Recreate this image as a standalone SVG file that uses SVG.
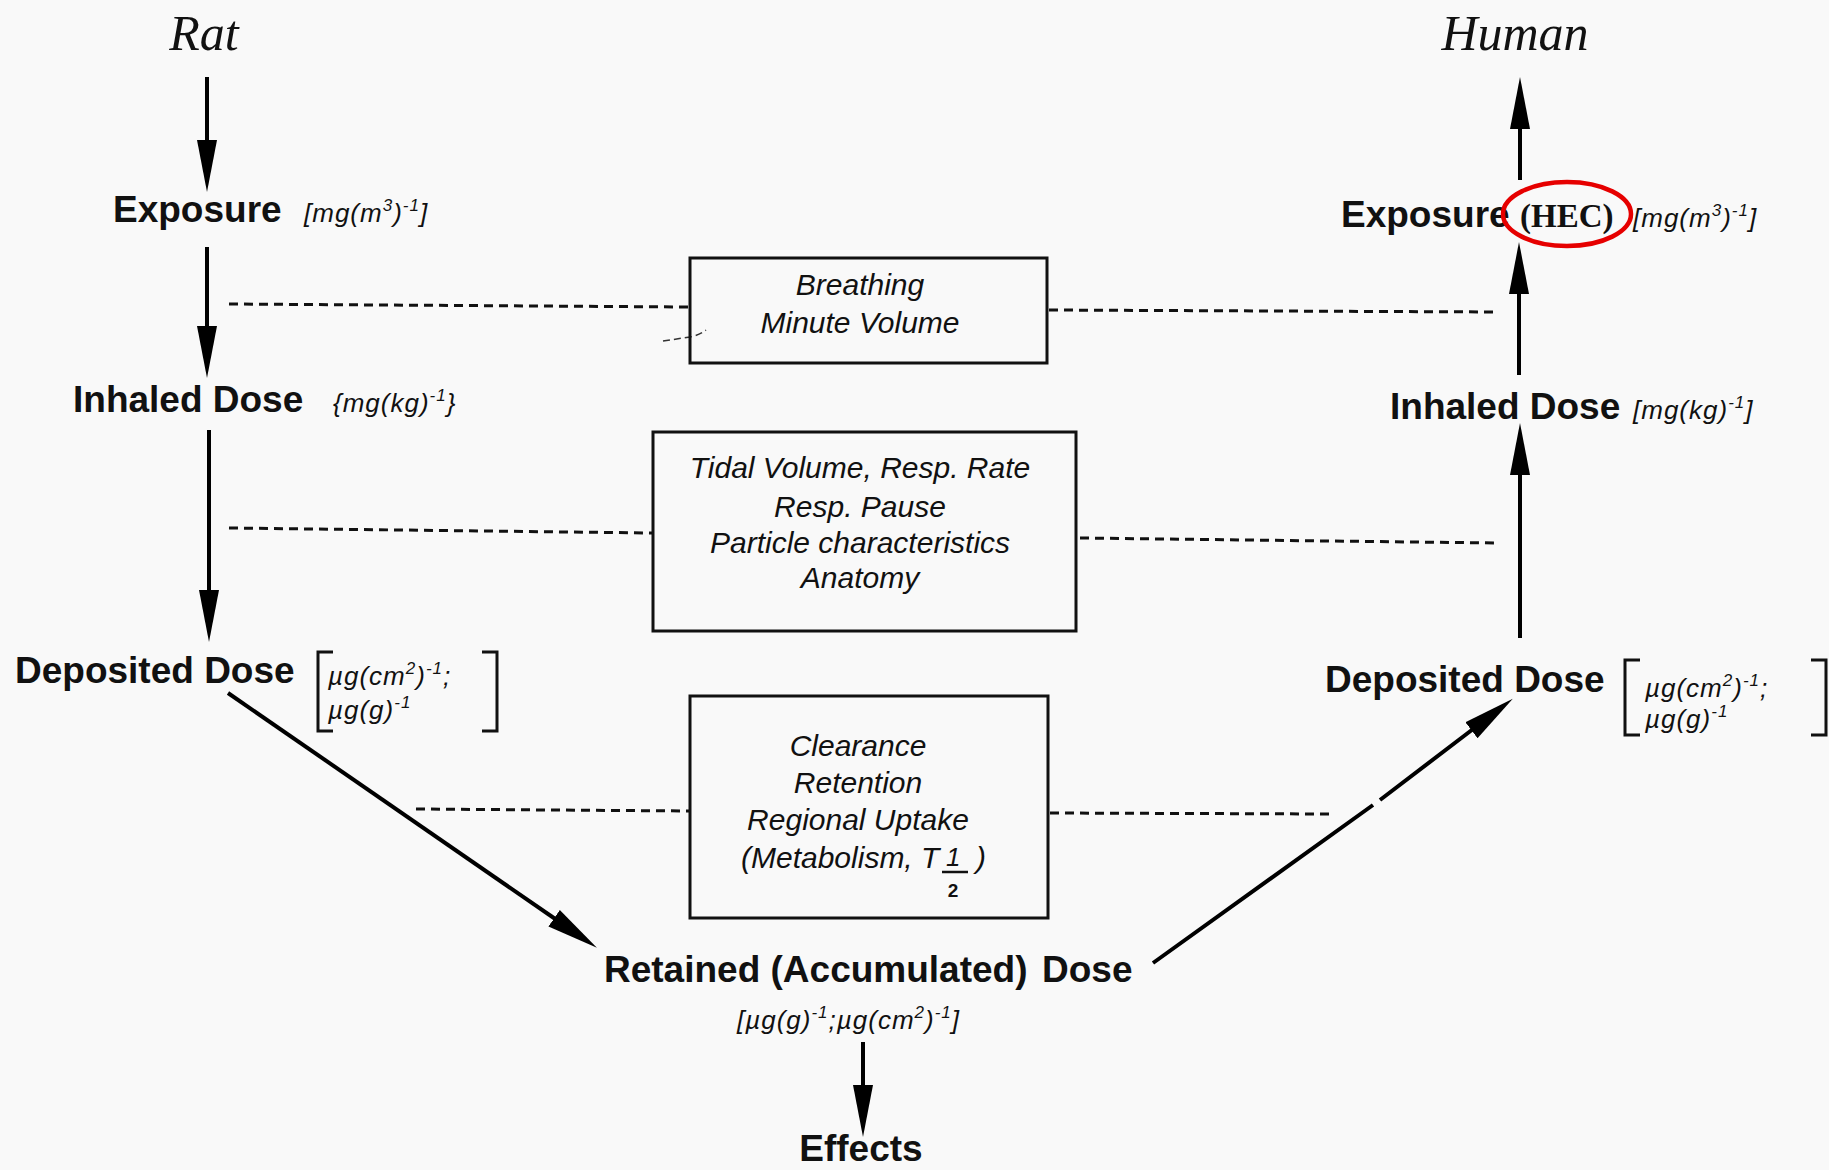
<svg xmlns="http://www.w3.org/2000/svg" width="1829" height="1170" viewBox="0 0 1829 1170">
<style>
.bg{fill:#f9f9f9}
.lbl{font-family:"Liberation Sans",Arial,sans-serif;font-weight:bold;font-size:37px;fill:#111}
.u{font-family:"Liberation Sans",Arial,sans-serif;font-style:italic;font-size:26px;fill:#111;letter-spacing:1px}
.s{font-size:17px}
.bx{font-family:"Liberation Sans",Arial,sans-serif;font-style:italic;font-size:30px;fill:#111;text-anchor:middle}
.ttl{font-family:"Liberation Serif","Times New Roman",serif;font-style:italic;font-size:50px;fill:#111;text-anchor:middle}
.box{fill:none;stroke:#111;stroke-width:3}
.arr{fill:none;stroke:#000;stroke-width:4;marker-end:url(#ah)}
.dash{fill:none;stroke:#111;stroke-width:3;stroke-dasharray:9 6}
.brk{fill:none;stroke:#111;stroke-width:3}
</style>
<defs>
<marker id="ah" markerUnits="userSpaceOnUse" markerWidth="54" markerHeight="22" refX="12" refY="10" orient="auto" viewBox="0 0 54 20">
<path d="M0,0 L52,10 L0,20 Z" fill="#000"/>
</marker>
</defs>
<rect class="bg" x="0" y="0" width="1829" height="1170"/>

<g id="connectors">
<path class="arr" d="M207,77 L207,152"/>
<path class="arr" d="M207,247 L207,338"/>
<path class="arr" d="M209,430 L209,602"/>
<path class="arr" d="M228,693 L564,925"/>
<path class="arr" d="M863,1042 L863,1097"/>
<path class="arr" d="M1153,963 L1373,805 M1380,800 L1481,723"/>
<path class="arr" d="M1520,638 L1520,463"/>
<path class="arr" d="M1519,375 L1519,282"/>
<path class="arr" d="M1520,180 L1520,117"/>
<path class="dash" d="M229,304 L690,307"/>
<path class="dash" d="M1049,310 L1497,312"/>
<path class="dash" d="M229,528 L653,533"/>
<path class="dash" d="M1080,538 L1497,543"/>
<path class="dash" d="M416,809 L690,811"/>
<path class="dash" d="M1050,813 L1330,814"/>
<path d="M663,341 L690,337 Q700,335 706,330" fill="none" stroke="#333" stroke-width="1.5" stroke-dasharray="7 4"/>
</g>

<g id="rat-title"><text class="ttl" x="204" y="50">Rat</text></g>
<g id="human-title"><text class="ttl" x="1515" y="50">Human</text></g>

<g id="rat-exposure">
<text class="lbl" x="113" y="222">Exposure</text>
<text class="u" x="304" y="222">[mg(m<tspan class="s" dy="-11">3</tspan><tspan dy="11">)</tspan><tspan class="s" dy="-11">-1</tspan><tspan dy="11">]</tspan></text>
</g>
<g id="rat-inhaled">
<text class="lbl" x="73" y="412">Inhaled Dose</text>
<text class="u" x="333" y="412">{mg(kg)<tspan class="s" dy="-11">-1</tspan><tspan dy="11">}</tspan></text>
</g>
<g id="rat-deposited">
<text class="lbl" x="15" y="683">Deposited Dose</text>
<path class="brk" d="M333,652 L318,652 L318,731 L333,731 M482,652 L497,652 L497,731 L482,731"/>
<text class="u" x="328" y="685">µg(cm<tspan class="s" dy="-11">2</tspan><tspan dy="11">)</tspan><tspan class="s" dy="-11">-1</tspan><tspan dy="11">;</tspan></text>
<text class="u" x="328" y="719">µg(g)<tspan class="s" dy="-11">-1</tspan></text>
</g>

<g id="box-breathing">
<rect class="box" x="690" y="258" width="357" height="105"/>
<text class="bx" x="860" y="295">Breathing</text>
<text class="bx" x="860" y="333">Minute Volume</text>
</g>
<g id="box-tidal">
<rect class="box" x="653" y="432" width="423" height="199"/>
<text class="bx" x="860" y="478">Tidal Volume, Resp. Rate</text>
<text class="bx" x="860" y="517">Resp. Pause</text>
<text class="bx" x="860" y="553">Particle characteristics</text>
<text class="bx" x="860" y="588">Anatomy</text>
</g>
<g id="box-clearance">
<rect class="box" x="690" y="696" width="358" height="222"/>
<text class="bx" x="858" y="756">Clearance</text>
<text class="bx" x="858" y="793">Retention</text>
<text class="bx" x="858" y="830">Regional Uptake</text>
<text class="u" x="741" y="868" style="font-size:30px;letter-spacing:0">(Metabolism, T</text>
<text class="u" x="946" y="866" style="font-size:26px;letter-spacing:0">1</text>
<text class="u" x="976" y="868" style="font-size:30px;letter-spacing:0">)</text>
<path d="M942,872 L968,872" stroke="#111" stroke-width="2.5"/>
<text x="953" y="897" style="font-family:'Liberation Sans',Arial,sans-serif;font-weight:bold;font-size:19px;fill:#111;text-anchor:middle">2</text>
</g>

<g id="retained">
<text class="lbl" x="604" y="982">Retained (Accumulated)</text>
<text class="lbl" x="1042" y="982">Dose</text>
<text class="u" x="737" y="1029">[µg(g)<tspan class="s" dy="-11">-1</tspan><tspan dy="11">;µg(cm</tspan><tspan class="s" dy="-11">2</tspan><tspan dy="11">)</tspan><tspan class="s" dy="-11">-1</tspan><tspan dy="11">]</tspan></text>
</g>
<g id="effects"><text class="lbl" x="861" y="1161" text-anchor="middle">Effects</text></g>

<g id="human-exposure">
<text class="lbl" x="1341" y="227">Exposure</text>
<text x="1520" y="227" style="font-family:'Liberation Serif','Times New Roman',serif;font-weight:bold;font-size:33px;fill:#111">(HEC)</text>
<ellipse cx="1567" cy="214" rx="64" ry="32" fill="none" stroke="#e60000" stroke-width="4.5"/>
<text class="u" x="1633" y="227">[mg(m<tspan class="s" dy="-11">3</tspan><tspan dy="11">)</tspan><tspan class="s" dy="-11">-1</tspan><tspan dy="11">]</tspan></text>
</g>
<g id="human-inhaled">
<text class="lbl" x="1390" y="419">Inhaled Dose</text>
<text class="u" x="1633" y="419">[mg(kg)<tspan class="s" dy="-11">-1</tspan><tspan dy="11">]</tspan></text>
</g>
<g id="human-deposited">
<text class="lbl" x="1325" y="692">Deposited Dose</text>
<path class="brk" d="M1640,660 L1625,660 L1625,735 L1640,735 M1811,660 L1826,660 L1826,735 L1811,735"/>
<text class="u" x="1645" y="697">µg(cm<tspan class="s" dy="-11">2</tspan><tspan dy="11">)</tspan><tspan class="s" dy="-11">-1</tspan><tspan dy="11">;</tspan></text>
<text class="u" x="1645" y="728">µg(g)<tspan class="s" dy="-11">-1</tspan></text>
</g>
</svg>
